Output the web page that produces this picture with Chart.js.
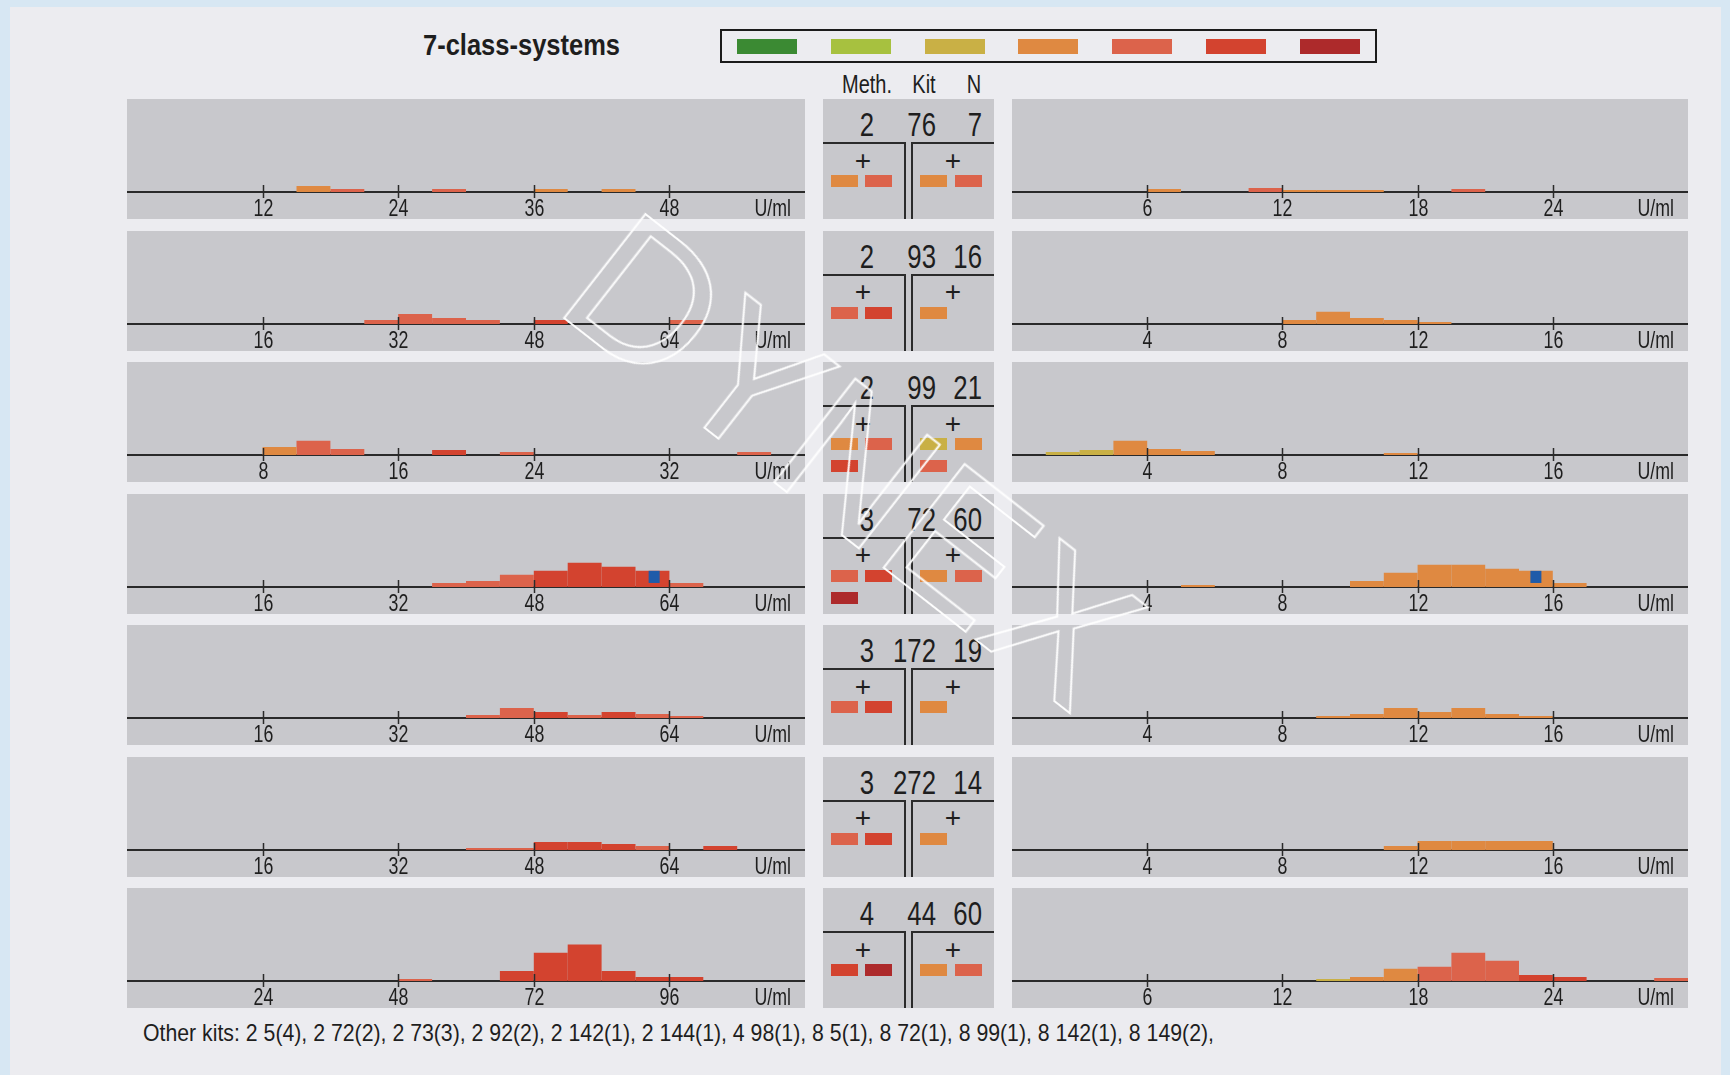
<!DOCTYPE html>
<html lang="de">
<head>
<meta charset="utf-8">
<title>7-class-systems</title>
<script src="https://cdn.jsdelivr.net/npm/chart.js@4.4.1/dist/chart.umd.min.js"></script>
<style>
  html, body { margin: 0; padding: 0; }
  body { width: 1730px; height: 1075px; position: relative; overflow: hidden; background: #d7e7f3;
         font-family: "Liberation Sans", Arial, sans-serif; color: #1e1e1e; }
  #page { position: absolute; left: 10px; top: 7px; right: 9px; bottom: 0; background: #ececf0; }
  .panel { position: absolute; height: 120px; background: #c8c8cc; }
  .panel canvas { position: absolute; left: 0; top: 0; }
  .txt { position: absolute; white-space: nowrap; }
  .sw { position: absolute; width: 27px; height: 12px; }
  .ln { position: absolute; background: #2b2b2b; }
  #legend { position: absolute; left: 720px; top: 29px; width: 653px; height: 30px; border: 2px solid #1b1b1b; }
  #legend .sw { width: 60px; height: 15px; top: 8px; }
  #watermark { position: absolute; left: 853px; top: 460px; z-index: 10; white-space: nowrap;
               font-family: "Liberation Sans", sans-serif; font-size: 192px; line-height: 192px; color: transparent;
               -webkit-text-stroke: 2px rgba(255,255,255,0.95); transform: translate(-50%, -50%) rotate(38deg); }
</style>
</head>
<body>
<div id="page"></div>
<div id="legend"></div>
<div id="watermark">DYNEX</div>
<script>
// Farben der 7 Klassen (gruen -> dunkelrot), blau = Zielwert
const classColors = ['#3b8a33', '#a7c13f', '#c9b045', '#df8941', '#dc634b', '#d3432f', '#ad2a2b'];
const targetColor = '#1f5ba9';

// Methode, Kit, Anzahl pro Zeile
const methods = [2, 2, 2, 3, 3, 3, 4];
const kits = [76, 93, 99, 72, 172, 272, 44];
const nValues = [7, 16, 21, 60, 19, 14, 60];

// Skalenenden in U/ml (5 Abschnitte, 20 Bins)
const leftMax = [60, 80, 40, 80, 80, 80, 120];
const rightMax = [30, 20, 20, 20, 20, 20, 30];
const Y_MAX = 46;

// Histogramme: Hoehe pro Bin und Klasse pro Bin
const L1_hist = [0,0,0,0,0,3,1.5,0,0,1.5,0,0,1.5,0,1.5,0,0,0,0,0];
const L1_cls  = [0,0,0,0,0,4,5,0,0,5,0,0,4,0,4,0,0,0,0,0];
const R1_hist = [0,0,0,0,1.5,0,0,2,1,1,1,0,0,1.5,0,0,0,0,0,0];
const R1_cls  = [0,0,0,0,4,0,0,5,4,4,4,0,0,5,0,0,0,0,0,0];

const L2_hist = [0,0,0,0,0,0,0,2,5,3,2,0,2,0,0,0,2,0,0,0];
const L2_cls  = [0,0,0,0,0,0,0,5,5,5,5,0,6,0,0,0,5,0,0,0];
const R2_hist = [0,0,0,0,0,0,0,0,2,6,3,2,1,0,0,0,0,0,0,0];
const R2_cls  = [0,0,0,0,0,0,0,0,4,4,4,4,4,0,0,0,0,0,0,0];

const L3_hist = [0,0,0,0,4,7,3,0,0,2.5,0,1.5,0,0,0,0,0,0,1.5,0];
const L3_cls  = [0,0,0,0,4,5,5,0,0,6,0,5,0,0,0,0,0,0,5,0];
const R3_hist = [0,1.5,2.5,7,3,2,0,0,0,0,0,1,0,0,0,0,0,0,0,0];
const R3_cls  = [0,3,3,4,4,4,0,0,0,0,0,4,0,0,0,0,0,0,0,0];

const L4_hist = [0,0,0,0,0,0,0,0,0,2,3,6,8,12,10,8,2,0,0,0];
const L4_cls  = [0,0,0,0,0,0,0,0,0,5,5,5,6,6,6,6,5,0,0,0];
const R4_hist = [0,0,0,0,0,1,0,0,0,0,3,7,11,11,9,8,2,0,0,0];
const R4_cls  = [0,0,0,0,0,4,0,0,0,0,4,4,4,4,4,4,4,0,0,0];

const L5_hist = [0,0,0,0,0,0,0,0,0,0,1.5,5,3,1.5,3,2,1,0,0,0];
const L5_cls  = [0,0,0,0,0,0,0,0,0,0,5,5,6,5,6,5,5,0,0,0];
const R5_hist = [0,0,0,0,0,0,0,0,0,1,2,5,3,5,2,1,0,0,0,0];
const R5_cls  = [0,0,0,0,0,0,0,0,0,4,4,4,4,4,4,4,0,0,0,0];

const L6_hist = [0,0,0,0,0,0,0,0,0,0,1,1,4,4,3,2,0,2,0,0];
const L6_cls  = [0,0,0,0,0,0,0,0,0,0,5,5,6,6,6,5,0,6,0,0];
const R6_hist = [0,0,0,0,0,0,0,0,0,0,0,2,4.5,4.5,4.5,4.5,0,0,0,0];
const R6_cls  = [0,0,0,0,0,0,0,0,0,0,0,4,4,4,4,4,0,0,0,0];

const L7_hist = [0,0,0,0,0,0,0,0,1,0,0,5,14,18,5,2,2,0,0,0];
const L7_cls  = [0,0,0,0,0,0,0,0,5,0,0,6,6,6,6,6,6,0,0,0];
const R7_hist = [0,0,0,0,0,0,0,0,0,1,2,6,7,14,10,3,2,0,0,1.5];
const R7_cls  = [0,0,0,0,0,0,0,0,0,3,4,4,5,5,5,6,6,0,0,5];

const leftHist = [L1_hist, L2_hist, L3_hist, L4_hist, L5_hist, L6_hist, L7_hist];
const leftCls = [L1_cls, L2_cls, L3_cls, L4_cls, L5_cls, L6_cls, L7_cls];
const rightHist = [R1_hist, R2_hist, R3_hist, R4_hist, R5_hist, R6_hist, R7_hist];
const rightCls = [R1_cls, R2_cls, R3_cls, R4_cls, R5_cls, R6_cls, R7_cls];

// Zielwerte (blau)
const leftTarget = [null, null, null, 62.2, null, null, null];
const rightTarget = [null, null, null, 15.5, null, null, null];

// Klassen-Kaestchen in der Mitte
const swatchLeft = [[4, 5], [5, 6], [4, 5, 6], [5, 6, 7], [5, 6], [5, 6], [6, 7]];
const swatchRight = [[4, 5], [4], [3, 4, 5], [4, 5], [4], [4], [4, 5]];

const otherKits = 'Other kits: 2 5(4), 2 72(2), 2 73(3), 2 92(2), 2 142(1), 2 144(1), 4 98(1), 8 5(1), 8 72(1), 8 99(1), 8 142(1), 8 149(2),';

const FONT = '"Liberation Sans", Arial, sans-serif';
const NARROW = 0.74;   // schmale Schrift nachbilden
const TICK_SIZE = 24;

// Ticks ueber/unter der Achse, Beschriftung, U/ml und Zielwert
const panelDeco = {
  id: 'panelDeco',
  afterDatasetsDraw(chart, args, opts) {
    if (opts.target == null) return;
    const xs = chart.scales.xv, ys = chart.scales.y, ctx = chart.ctx;
    const bin = Math.floor(opts.target / opts.binW);
    const px = xs.getPixelForValue(opts.target);
    const y0 = ys.getPixelForValue(2), y1 = ys.getPixelForValue(opts.hist[bin]);
    ctx.save();
    ctx.fillStyle = targetColor;
    ctx.fillRect(px - 5.5, y1, 11, y0 - y1);
    ctx.restore();
  },
  afterDraw(chart) {
    const {ctx, chartArea} = chart;
    const xs = chart.scales.xv;
    const y = chartArea.bottom;
    ctx.save();
    ctx.strokeStyle = '#2a2a2a';
    ctx.lineWidth = 1.5;
    ctx.fillStyle = '#1e1e1e';
    ctx.font = TICK_SIZE + 'px ' + FONT;
    ctx.textBaseline = 'middle';
    ctx.textAlign = 'center';
    xs.ticks.forEach(t => {
      if (t.value <= xs.min || t.value >= xs.max) return;
      const px = Math.round(xs.getPixelForValue(t.value)) + 0.5;
      ctx.beginPath();
      ctx.moveTo(px, y - 7);
      ctx.lineTo(px, y + 6);
      ctx.stroke();
      ctx.save();
      ctx.translate(px, y + 17);
      ctx.scale(NARROW, 1);
      ctx.fillText(String(t.value), 0, 0);
      ctx.restore();
    });
    ctx.translate(chartArea.right - 14, y + 17);
    ctx.scale(NARROW, 1);
    ctx.textAlign = 'right';
    ctx.fillText('U/ml', 0, 0);
    ctx.restore();
  }
};

function addPanel(x, y, w) {
  const d = document.createElement('div');
  d.className = 'panel';
  d.style.left = x + 'px';
  d.style.top = y + 'px';
  d.style.width = w + 'px';
  document.body.appendChild(d);
  return d;
}

// y = Mitte der Grossbuchstaben
function addText(parent, text, x, y, size, align, bold, scale) {
  const el = document.createElement('div');
  el.className = 'txt';
  el.textContent = text;
  el.style.fontSize = size + 'px';
  el.style.lineHeight = size + 'px';
  el.style.left = x + 'px';
  el.style.top = (y - 0.48 * size) + 'px';
  if (bold) el.style.fontWeight = 'bold';
  const sx = scale || NARROW;
  const shift = align === 'right' ? '-100%' : align === 'center' ? '-50%' : '0';
  const origin = align === 'right' ? '100% 50%' : align === 'center' ? '50% 50%' : '0 50%';
  el.style.transformOrigin = origin;
  el.style.transform = 'translateX(' + shift + ') scaleX(' + sx + ')';
  parent.appendChild(el);
  return el;
}

function fitWidth(el, width) {
  const w = el.getBoundingClientRect().width;
  const cur = parseFloat(el.style.transform.match(/scaleX\(([^)]+)\)/)[1]);
  el.style.transform = el.style.transform.replace(/scaleX\([^)]+\)/, 'scaleX(' + (cur * width / w) + ')');
}

function addBox(parent, cls, x, y, w, h, color) {
  const el = document.createElement('div');
  el.className = cls;
  el.style.left = x + 'px';
  el.style.top = y + 'px';
  if (w != null) el.style.width = w + 'px';
  if (h != null) el.style.height = h + 'px';
  if (color) el.style.background = color;
  parent.appendChild(el);
}

function histogram(panel, w, max, hist, cls, target) {
  const canvas = document.createElement('canvas');
  canvas.width = w;
  canvas.height = 120;
  panel.appendChild(canvas);
  const binW = max / hist.length;
  const labels = hist.map((_, i) => i * binW);
  // eine Reihe pro Klasse, leere Bins als null (kein Balken)
  const datasets = classColors.map((col, c) => ({
    data: hist.map((v, i) => (cls[i] === c + 1 && v > 0) ? v : null),
    backgroundColor: col,
    borderWidth: 0,
    inflateAmount: 0,
    barPercentage: 1,
    categoryPercentage: 1,
    stack: 'h',
    xAxisID: 'x',
    yAxisID: 'y'
  })).filter(ds => ds.data.some(v => v != null));

  new Chart(canvas, {
    type: 'bar',
    data: { labels, datasets },
    options: {
      responsive: false,
      animation: false,
      events: [],
      layout: { padding: 0 },
      plugins: {
        legend: { display: false },
        tooltip: { enabled: false },
        panelDeco: { target, hist, binW }
      },
      scales: {
        x: { type: 'category', display: false, stacked: true, offset: true },
        xv: {
          type: 'linear', position: 'bottom', min: 0, max, offset: false, z: 1,
          grid: { display: false, drawTicks: false, offset: false },
          border: { display: true, color: '#2a2a2a', width: 2 },
          ticks: { stepSize: max / 5, display: false },
          afterFit: s => { s.height = 27; }
        },
        y: { display: false, stacked: true, min: 0, max: Y_MAX }
      }
    },
    plugins: [panelDeco]
  });
}

function fillMiddle(panel, i) {
  addText(panel, String(methods[i]), 51, 25, 33, 'right', false, 0.78);
  addText(panel, String(kits[i]), 113, 25, 33, 'right', false, 0.78);
  addText(panel, String(nValues[i]), 159, 25, 33, 'right', false, 0.78);
  addBox(panel, 'ln', 0, 43, 83, 2);
  addBox(panel, 'ln', 81, 43, 2, 77);
  addBox(panel, 'ln', 88, 43, 2, 77);
  addBox(panel, 'ln', 88, 43, 83, 2);
  addText(panel, '+', 40, 61, 28, 'center', false, 1);
  addText(panel, '+', 130, 61, 28, 'center', false, 1);
  const slotsL = [[8, 76], [42, 76], [8, 98]];
  const slotsR = [[97, 76], [132, 76], [97, 98]];
  swatchLeft[i].forEach((c, k) => addBox(panel, 'sw', slotsL[k][0], slotsL[k][1], null, null, classColors[c - 1]));
  swatchRight[i].forEach((c, k) => addBox(panel, 'sw', slotsR[k][0], slotsR[k][1], null, null, classColors[c - 1]));
}

// Kopf: Titel, Legende, Spaltenkoepfe
const title = addText(document.body, '7-class-systems', 423, 44, 30, 'left', true);
fitWidth(title, 197);
const legend = document.getElementById('legend');
classColors.forEach((col, k) => addBox(legend, 'sw', 15 + k * 93.8, 8, null, null, col));
addText(document.body, 'Meth.', 867, 84, 25, 'center', false, 0.8);
addText(document.body, 'Kit', 924, 84, 25, 'center', false, 0.8);
addText(document.body, 'N', 974, 84, 25, 'center', false, 0.8);

const ROW_TOP = 99, ROW_STEP = 131.5;
for (let i = 0; i < 7; i++) {
  const top = ROW_TOP + i * ROW_STEP;
  const lp = addPanel(127, top, 678);
  histogram(lp, 678, leftMax[i], leftHist[i], leftCls[i], leftTarget[i]);
  const mp = addPanel(823, top, 171);
  fillMiddle(mp, i);
  const rp = addPanel(1012, top, 676);
  histogram(rp, 676, rightMax[i], rightHist[i], rightCls[i], rightTarget[i]);
}

const footer = addText(document.body, otherKits, 143, 1033, 24, 'left');
fitWidth(footer, 1071);
</script>
</body>
</html>
